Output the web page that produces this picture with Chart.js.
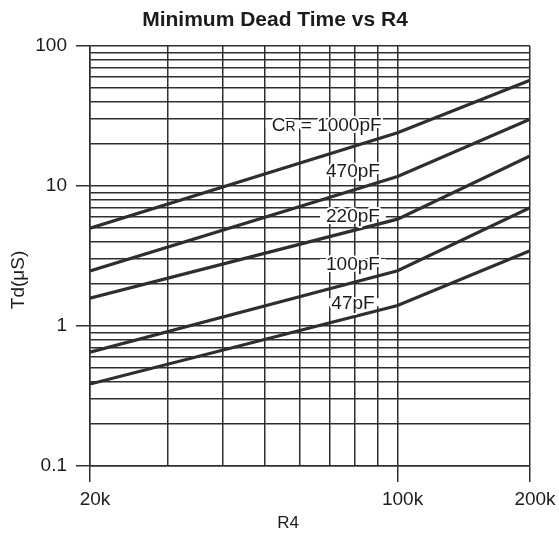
<!DOCTYPE html>
<html>
<head>
<meta charset="utf-8">
<script src="https://cdn.jsdelivr.net/npm/chart.js@4.4.1/dist/chart.umd.min.js"></script>
<style>
  body { margin: 0; background: #fff; }
  canvas { display: block; }
</style>
</head>
<body>
<canvas id="deadtime" width="559" height="537"></canvas>
<script>
// R4 sample points (ohms)
var r4Values = [20000, 100000, 200000];

// Td (uS) for each timing capacitor
var td1000 = [5.0, 24, 57];
var td470 = [2.47, 11.7, 30];
var td220 = [1.58, 5.8, 16.4];
var td100 = [0.65, 2.48, 7.0];
var td47 = [0.385, 1.4, 3.45];

var xGridValues = [20000, 30000, 40000, 50000, 60000, 70000, 80000, 90000, 100000, 200000];
var xTickValues = [20000, 100000, 200000];
var xTickLabels = ['20k', '100k', '200k'];

var yGridValues = [0.1, 0.2, 0.3, 0.4, 0.5, 0.6, 0.7, 0.8, 0.9,
	1, 2, 3, 4, 5, 6, 7, 8, 9,
	10, 20, 30, 40, 50, 60, 70, 80, 90, 100];
var yTickValues = [0.1, 1, 10, 100];
var yTickLabels = ['0.1', '1', '10', '100'];

// curve labels: text, R4 position, Td position
var labelTexts = ['1000pF', '470pF', '220pF', '100pF', '47pF'];
var labelR4 = [69000, 79200, 79200, 79200, 79200];
var labelTd = [27.7, 13.0, 6.2, 2.82, 1.48];

var ink = '#2e2e2e';
var textInk = '#1c1c1c';
var font = '"Liberation Sans", Arial, sans-serif';

function pts(ys) {
	return r4Values.map(function (x, i) { return { x: x, y: ys[i] }; });
}

function curve(ys) {
	return {
		data: pts(ys),
		borderColor: ink,
		borderWidth: 3.2,
		pointRadius: 0,
		tension: 0,
		fill: false
	};
}

var overlay = {
	id: 'overlay',
	afterDraw: function (chart) {
		var ctx = chart.ctx;
		var xs = chart.scales.x, ys = chart.scales.y;
		ctx.save();

		// title
		ctx.fillStyle = textInk;
		ctx.font = 'bold 21px ' + font;
		ctx.textAlign = 'center';
		ctx.textBaseline = 'middle';
		ctx.fillText('Minimum Dead Time vs R4', 275, 20);

		// axis titles
		ctx.font = '17px ' + font;
		ctx.fillText('R4', 288, 523);
		ctx.save();
		ctx.translate(19, 280);
		ctx.rotate(-Math.PI / 2);
		ctx.font = '19px ' + font;
		ctx.fillText('Td(\u03bcS)', 0, 0);
		ctx.restore();

		// curve labels
		for (var i = 0; i < labelTexts.length; i++) {
			var cx = xs.getPixelForValue(labelR4[i]);
			var cy = ys.getPixelForValue(labelTd[i]);
			var prefix = i === 0 ? 'C' : '';
			var sub = i === 0 ? 'R' : '';
			var rest = i === 0 ? ' = ' + labelTexts[i] : labelTexts[i];
			ctx.font = '19px ' + font;
			var wC = ctx.measureText(prefix).width;
			var wRest = ctx.measureText(rest).width;
			ctx.font = '14px ' + font;
			var wSub = ctx.measureText(sub).width;
			var total = wC + wSub + wRest;
			var left = cx - total / 2;

			ctx.fillStyle = '#fff';
			ctx.fillRect(left - 6, cy - 4, total + 12, 8);

			ctx.textAlign = 'left';
			ctx.textBaseline = 'alphabetic';
			ctx.lineJoin = 'round';
			ctx.strokeStyle = '#fff';
			ctx.lineWidth = 4;
			var base = cy + 7;
			if (prefix) {
				ctx.font = '19px ' + font;
				ctx.strokeText(prefix, left, base);
				ctx.fillStyle = textInk;
				ctx.fillText(prefix, left, base);
			}
			if (sub) {
				ctx.font = '14px ' + font;
				ctx.strokeText(sub, left + wC, base);
				ctx.fillStyle = textInk;
				ctx.fillText(sub, left + wC, base);
			}
			ctx.font = '19px ' + font;
			ctx.strokeText(rest, left + wC + wSub, base);
			ctx.fillStyle = textInk;
			ctx.fillText(rest, left + wC + wSub, base);
		}
		ctx.restore();
	}
};

var config = {
	type: 'line',
	data: {
		datasets: [curve(td1000), curve(td470), curve(td220), curve(td100), curve(td47)]
	},
	options: {
		responsive: false,
		animation: false,
		devicePixelRatio: 1,
		layout: {
			padding: { top: 46, right: 29, left: 0, bottom: 0 }
		},
		plugins: {
			legend: { display: false },
			title: { display: false },
			tooltip: { enabled: false }
		},
		scales: {
			x: {
				type: 'logarithmic',
				min: 20000,
				max: 200000,
				afterBuildTicks: function (scale) {
					scale.ticks = xGridValues.map(function (v) { return { value: v }; });
				},
				afterFit: function (scale) { scale.height = 71; },
				ticks: {
					autoSkip: false,
					maxRotation: 0,
					padding: 6,
					labelOffset: 5,
					color: textInk,
					font: { family: font, size: 19 },
					callback: function (value) {
						var k = xTickValues.indexOf(value);
						return k < 0 ? '' : xTickLabels[k];
					}
				},
				grid: {
					color: ink,
					lineWidth: 1.5,
					tickLength: 16,
					tickWidth: 1.5,
					tickColor: function (c) {
						return c.tick && xTickValues.indexOf(c.tick.value) >= 0 ? ink : 'rgba(0,0,0,0)';
					}
				},
				border: { color: ink, width: 1.5 }
			},
			y: {
				type: 'logarithmic',
				min: 0.1,
				max: 100,
				afterBuildTicks: function (scale) {
					scale.ticks = yGridValues.map(function (v) { return { value: v }; });
				},
				afterFit: function (scale) { scale.width = 90; },
				ticks: {
					autoSkip: false,
					padding: 9,
					color: textInk,
					font: { family: font, size: 19 },
					callback: function (value) {
						var k = yTickValues.indexOf(value);
						return k < 0 ? '' : yTickLabels[k];
					}
				},
				grid: {
					color: ink,
					lineWidth: 1.5,
					tickLength: 14,
					tickWidth: 1.5,
					tickColor: function (c) {
						return c.tick && yTickValues.indexOf(c.tick.value) >= 0 ? ink : 'rgba(0,0,0,0)';
					}
				},
				border: { color: ink, width: 1.5 }
			}
		}
	},
	plugins: [overlay]
};

var ctx = document.getElementById('deadtime').getContext('2d');
var chart = new Chart(ctx, config);
</script>
</body>
</html>
